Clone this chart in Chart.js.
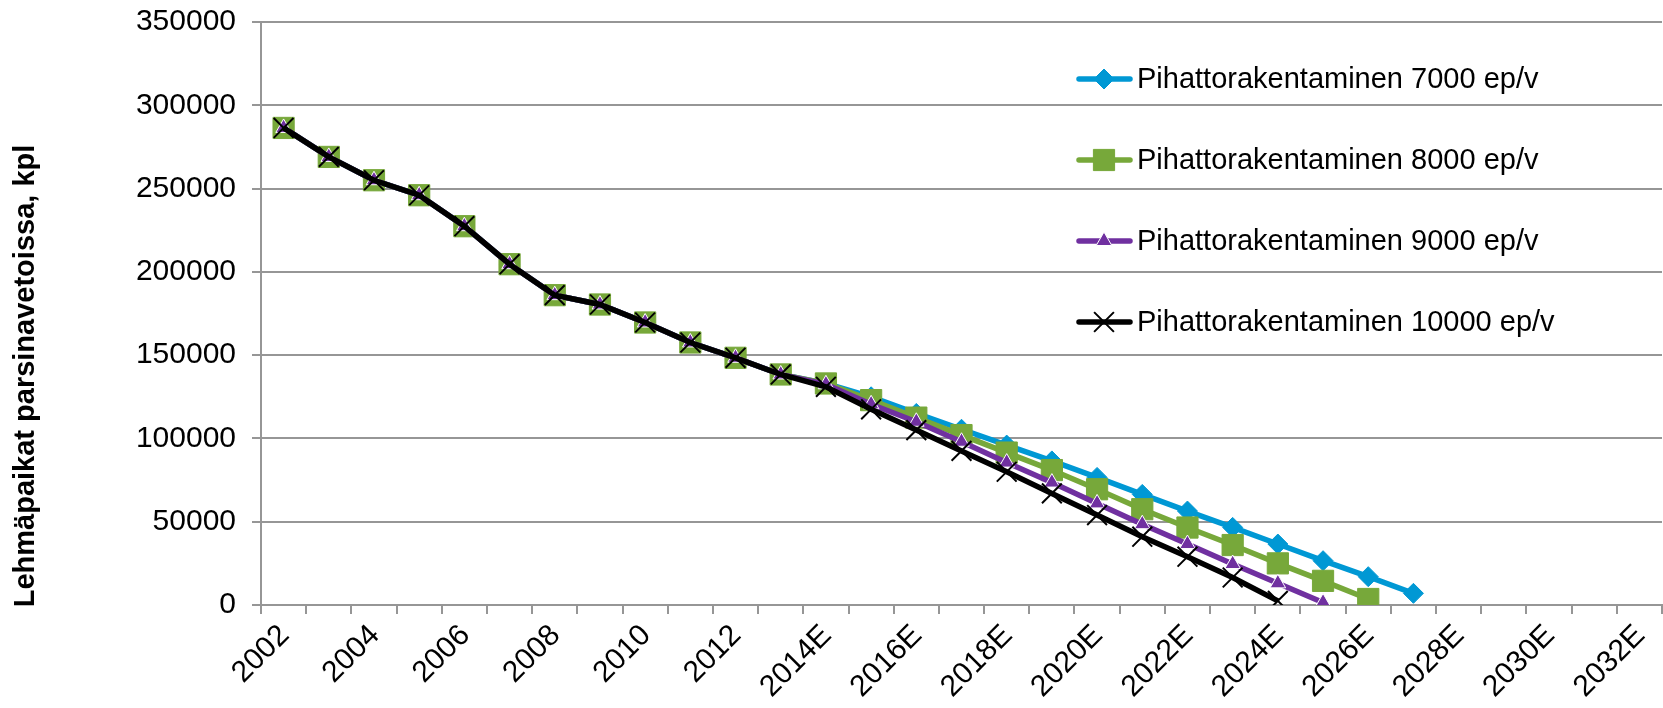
<!DOCTYPE html>
<html>
<head>
<meta charset="utf-8">
<script src="https://cdn.jsdelivr.net/npm/chart.js@4/dist/chart.umd.min.js"></script>
<style>
    html, body { margin: 0; padding: 0; background: #fff; overflow: hidden; }
    #wrap { width: 1663px; height: 708px; position: relative; }
    #chart { display: block; }
</style>
</head>
<body>
<div id="wrap"><canvas id="chart"></canvas></div>
<script>
"use strict";

    // vuodet (x-akseli)
    const years = ['2002', '2003', '2004', '2005', '2006', '2007', '2008', '2009', '2010', '2011', '2012', '2013',
        '2014E', '2015E', '2016E', '2017E', '2018E', '2019E', '2020E', '2021E', '2022E', '2023E',
        '2024E', '2025E', '2026E', '2027E', '2028E', '2029E', '2030E', '2031E', '2032E'];

    // toteutunut 2002-2013 (yhteinen kaikille sarjoille)
    const history = [286400, 269000, 255000, 246000, 227400, 204600, 186000, 180400, 169600, 157600, 148400, 138400];

    // ennusteet 2014E alkaen
    const forecast7000 = [133000, 125000, 115000, 105500, 96000, 86500, 76600, 66400, 56400, 46600, 36600, 26600, 17000, 7000];
    const forecast8000 = [133000, 123000, 112500, 102000, 91500, 81000, 69500, 57500, 46500, 36000, 25000, 14500, 3600];
    const forecast9000 = [132500, 120500, 110000, 98000, 85500, 73500, 61000, 48500, 36600, 24600, 13000, 1500];
    const forecast10000 = [131000, 117500, 105000, 92500, 80000, 67000, 54000, 41000, 29000, 16500, 2500];

    const seriesNames = ['Pihattorakentaminen 7000 ep/v', 'Pihattorakentaminen 8000 ep/v',
        'Pihattorakentaminen 9000 ep/v', 'Pihattorakentaminen 10000 ep/v'];

    const yTitle = 'Lehmäpaikat parsinavetoissa, kpl';
    const FONT = "'Liberation Sans', Arial, sans-serif";
    const GRID = '#969696';

    function series(forecast) {
        const s = history.concat(forecast);
        while (s.length < years.length) s.push(null);
        return s;
    }

    // oma selite ja y-akselin otsikko
    const extras = {
        id: 'extras',
        afterDraw(chart) {
            const c = chart.ctx;
            c.save();
            c.fillStyle = '#000';
            c.font = 'bold 29px ' + FONT;
            c.textAlign = 'center';
            c.textBaseline = 'middle';
            c.translate(26, 376);
            c.rotate(-Math.PI / 2);
            c.fillText(yTitle, 0, 0);
            c.restore();

            chart.data.datasets.forEach((ds, i) => {
                const y = 79 + i * 81;
                c.save();
                c.strokeStyle = ds.borderColor;
                c.lineWidth = ds.borderWidth;
                c.lineCap = 'round';
                c.beginPath();
                c.moveTo(1079, y);
                c.lineTo(1130, y);
                c.stroke();
                c.fillStyle = ds.pointBackgroundColor;
                c.strokeStyle = ds.pointBorderColor;
                c.lineWidth = ds.pointBorderWidth;
                c.lineCap = 'butt';
                Chart.helpers.drawPoint(c, {
                    pointStyle: ds.pointStyle,
                    radius: ds.pointRadius,
                    borderWidth: ds.pointBorderWidth,
                    rotation: 0
                }, 1104, y);
                c.fillStyle = '#000';
                c.font = '29px ' + FONT;
                c.textAlign = 'left';
                c.textBaseline = 'middle';
                c.fillText(ds.label, 1137, y + 1);
                c.restore();
            });
        }
    };

    const ctx = document.getElementById('chart').getContext('2d');
    const chart = new Chart(ctx, {
        type: 'line',
        data: {
            labels: years,
            datasets: [{
                label: seriesNames[0],
                data: series(forecast7000),
                borderColor: '#0098D4',
                borderWidth: 5.5,
                pointStyle: 'rectRot',
                pointRadius: 10,
                pointBackgroundColor: '#0098D4',
                pointBorderColor: '#0098D4',
                pointBorderWidth: 1,
                order: 4
            }, {
                label: seriesNames[1],
                data: series(forecast8000),
                borderColor: '#77A83A',
                borderWidth: 5.5,
                pointStyle: 'rect',
                pointRadius: 15,
                pointBackgroundColor: '#77A83A',
                pointBorderColor: '#77A83A',
                pointBorderWidth: 1,
                order: 3
            }, {
                label: seriesNames[2],
                data: series(forecast9000),
                borderColor: '#7030A0',
                borderWidth: 5.5,
                pointStyle: 'triangle',
                pointRadius: 9,
                pointBackgroundColor: '#7030A0',
                pointBorderColor: '#ffffff',
                pointBorderWidth: 1,
                order: 2
            }, {
                label: seriesNames[3],
                data: series(forecast10000),
                borderColor: '#000000',
                borderWidth: 5.5,
                pointStyle: 'crossRot',
                pointRadius: 14,
                pointBackgroundColor: '#000000',
                pointBorderColor: '#000000',
                pointBorderWidth: 2,
                order: 1
            }]
        },
        options: {
            responsive: true,
            maintainAspectRatio: false,
            animation: false,
            devicePixelRatio: 1,
            layout: {
                autoPadding: false,
                padding: { top: 22, right: 1, left: 0, bottom: 0 }
            },
            plugins: {
                legend: { display: false },
                tooltip: { enabled: false }
            },
            elements: { line: { tension: 0 } },
            scales: {
                x: {
                    offset: true,
                    afterFit: (scale) => {
                        scale.height = 103;
                        scale.paddingLeft = 0;
                        scale.paddingRight = 0;
                    },
                    grid: {
                        offset: true,
                        drawOnChartArea: false,
                        drawTicks: true,
                        tickLength: 9,
                        color: GRID,
                        lineWidth: 2
                    },
                    border: { color: GRID, width: 2 },
                    ticks: {
                        autoSkip: false,
                        maxRotation: 45,
                        minRotation: 45,
                        padding: 4,
                        labelOffset: 1,
                        color: '#000',
                        font: { family: FONT, size: 30 },
                        callback: function (value, index) {
                            return index % 2 === 0 ? this.getLabelForValue(value) : '';
                        }
                    }
                },
                y: {
                    min: 0,
                    max: 350000,
                    afterFit: (scale) => {
                        scale.width = 261;
                        scale.paddingTop = 0;
                        scale.paddingBottom = 0;
                    },
                    grid: {
                        color: GRID,
                        lineWidth: 2,
                        drawTicks: true,
                        tickLength: 9
                    },
                    border: { color: GRID, width: 2 },
                    ticks: {
                        stepSize: 50000,
                        padding: 16,
                        color: '#000',
                        font: { family: FONT, size: 30 },
                        callback: (v) => String(v)
                    }
                }
            }
        },
        plugins: [extras]
    });
</script>
</body>
</html>
